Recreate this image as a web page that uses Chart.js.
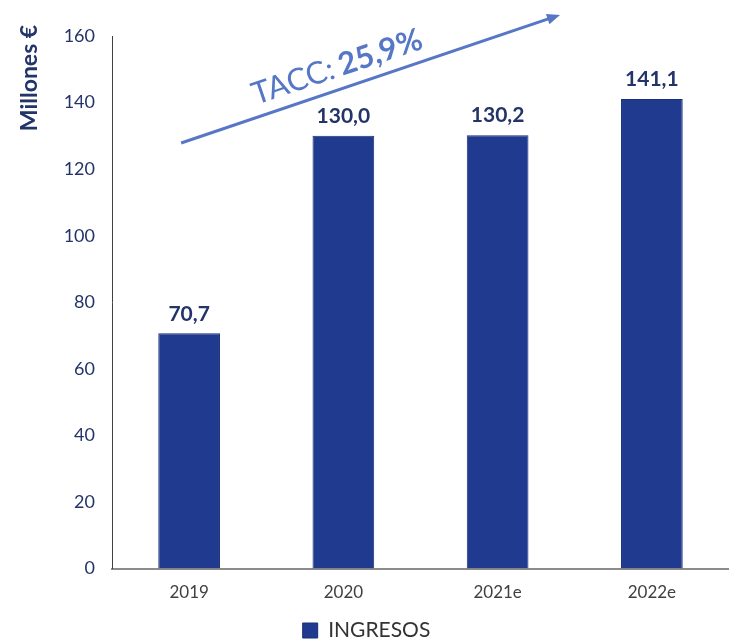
<!DOCTYPE html>
<html>
<head>
<meta charset="utf-8">
<script src="https://cdn.jsdelivr.net/npm/chart.js@4/dist/chart.umd.min.js"></script>
<style>
html,body{margin:0;padding:0;background:#fff;}
#wrap{width:729px;height:640px;position:relative;}
</style>
</head>
<body>
<div id="wrap"><canvas id="c" width="729" height="640"></canvas></div>
<script>
const categories = ["2019", "2020", "2021e", "2022e"];
const ingresos = [70.7, 130.0, 130.2, 141.1];
const seriesName = "INGRESOS";
const yTicks = [0, 20, 40, 60, 80, 100, 120, 140, 160];
const yTitle = "Millones €";
const caggLabel = "TACC: ";
const caggValue = "25,9%";

const FONT = "Lato, 'Open Sans', sans-serif";
const NAVY = "#1f3a8f";
const LABEL_NAVY = "#233469";

const overlay = {
  id: 'overlay',
  afterDatasetsDraw(chart) {
    const ctx = chart.ctx;
    const meta = chart.getDatasetMeta(0);
    ctx.save();
    ctx.font = "bold 21px " + FONT;
    ctx.fillStyle = LABEL_NAVY;
    ctx.textAlign = "center";
    ctx.textBaseline = "bottom";
    meta.data.forEach((bar, i) => {
      ctx.fillText(ingresos[i].toFixed(1).replace('.', ','), bar.x, bar.y - 9);
    });
    ctx.restore();

    ctx.save();
    ctx.translate(30, 78);
    ctx.rotate(-Math.PI / 2);
    ctx.font = "bold 23px " + FONT;
    ctx.fillStyle = LABEL_NAVY;
    ctx.textAlign = "center";
    ctx.textBaseline = "middle";
    ctx.fillText(yTitle, 0, 0);
    ctx.restore();

    const x0 = meta.data[0].x - 8, y0 = 143;
    const x1 = 560, y1 = 15;
    const ang = Math.atan2(y1 - y0, x1 - x0);
    ctx.save();
    ctx.strokeStyle = "#5677c6";
    ctx.fillStyle = "#5677c6";
    ctx.lineWidth = 3;
    ctx.beginPath();
    ctx.moveTo(x0, y0);
    ctx.lineTo(x1 - 10 * Math.cos(ang), y1 - 10 * Math.sin(ang));
    ctx.stroke();
    ctx.beginPath();
    ctx.moveTo(x1, y1);
    ctx.lineTo(x1 - 13 * Math.cos(ang) + 5.5 * Math.sin(ang), y1 - 13 * Math.sin(ang) - 5.5 * Math.cos(ang));
    ctx.lineTo(x1 - 13 * Math.cos(ang) - 5.5 * Math.sin(ang), y1 - 13 * Math.sin(ang) + 5.5 * Math.cos(ang));
    ctx.closePath();
    ctx.fill();
    ctx.restore();

    ctx.save();
    ctx.translate(256, 105);
    ctx.rotate(ang);
    ctx.fillStyle = "#5677c6";
    ctx.textBaseline = "alphabetic";
    ctx.textAlign = "left";
    ctx.font = "31px " + FONT;
    ctx.fillText(caggLabel, 0, 0);
    const w = ctx.measureText(caggLabel).width;
    ctx.font = "bold 31px " + FONT;
    ctx.fillText(caggValue, w - 2, 0);
    ctx.restore();
  }
};

new Chart(document.getElementById('c'), {
  type: 'bar',
  data: {
    labels: categories,
    datasets: [{
      label: seriesName,
      data: ingresos,
      backgroundColor: NAVY,
      borderColor: "#1a2f75",
      borderWidth: 1,
      categoryPercentage: 1.0,
      barPercentage: 0.4
    }]
  },
  options: {
    responsive: false,
    animation: false,
    devicePixelRatio: 1,
    layout: { padding: { top: 36, right: -4, left: 0, bottom: -11 } },
    plugins: {
      legend: {
        position: 'bottom',
        labels: {
          boxWidth: 15, boxHeight: 15,
          color: "#333333",
          font: { family: FONT, size: 21 },
          padding: 3
        }
      },
      tooltip: { enabled: false }
    },
    scales: {
      x: {
        grid: { display: false, drawTicks: false },
        border: { color: "#8c8c8c", width: 2 },
        ticks: { color: "#404040", font: { family: FONT, size: 17 }, padding: 14 }
      },
      y: {
        min: 0, max: 160,
        afterBuildTicks(scale) { scale.ticks = yTicks.map(v => ({ value: v })); },
        afterFit(scale) { scale.width = 112; },
        grid: { display: false, drawOnChartArea: false, drawTicks: true, tickLength: 7, tickColor: "#404040" },
        border: { color: "#404040", width: 1 },
        ticks: { color: LABEL_NAVY, font: { family: FONT, size: 18 }, padding: 10 }
      }
    }
  },
  plugins: [overlay]
});
</script>
</body>
</html>
